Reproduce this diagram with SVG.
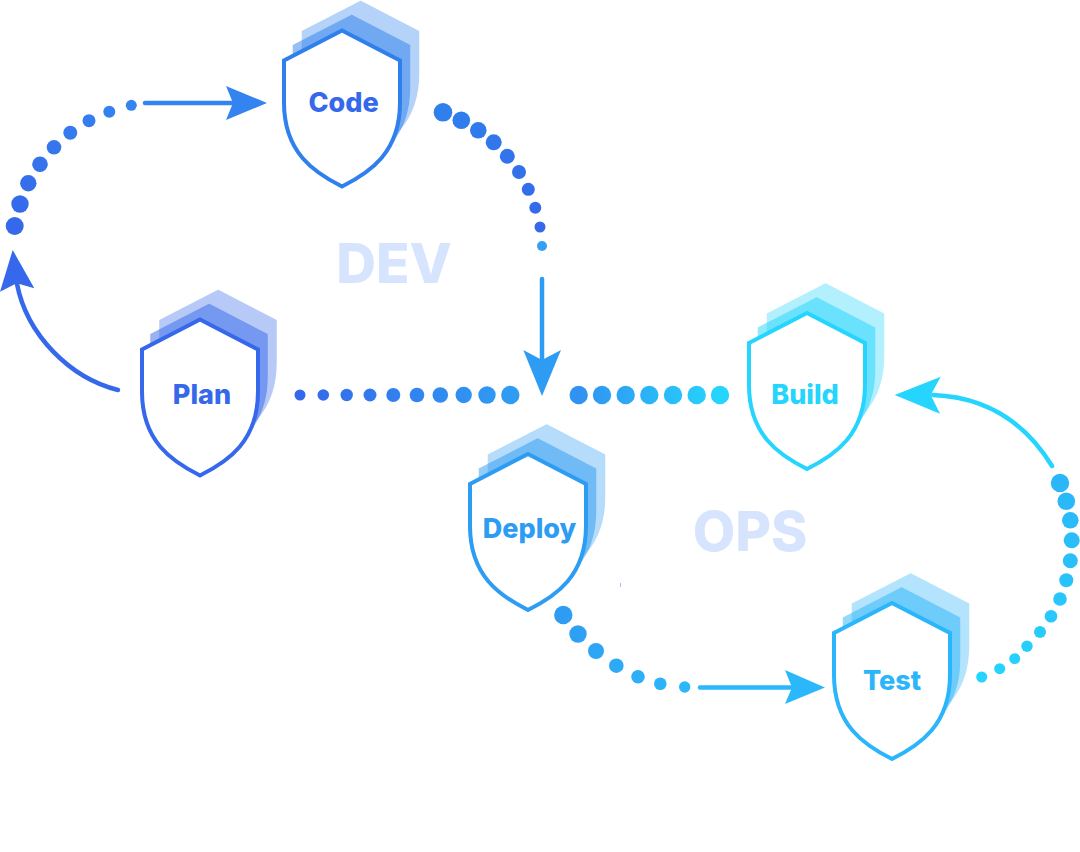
<svg xmlns="http://www.w3.org/2000/svg" width="1080" height="852" viewBox="0 0 1080 852">
<defs>
<path id="s" d="M0 0L58 30V72C58 122 28 142 0 156C-28 142 -58 122 -58 72V30Z"/>
<linearGradient id="g1" gradientUnits="userSpaceOnUse" x1="15" y1="226" x2="131" y2="105"><stop offset="0" stop-color="#3568ea"/><stop offset="1" stop-color="#3584f0"/></linearGradient>
<linearGradient id="g2" gradientUnits="userSpaceOnUse" x1="443" y1="112" x2="540" y2="227"><stop offset="0" stop-color="#2f80ed"/><stop offset="1" stop-color="#3568ea"/></linearGradient>
<linearGradient id="g3" gradientUnits="userSpaceOnUse" x1="300" y1="395" x2="511" y2="395"><stop offset="0" stop-color="#3568ea"/><stop offset="1" stop-color="#2f9cf3"/></linearGradient>
<linearGradient id="g4" gradientUnits="userSpaceOnUse" x1="579" y1="395" x2="720" y2="395"><stop offset="0" stop-color="#3192f1"/><stop offset="1" stop-color="#25d5fe"/></linearGradient>
<linearGradient id="g5" gradientUnits="userSpaceOnUse" x1="563" y1="615" x2="685" y2="687"><stop offset="0" stop-color="#2f9cf3"/><stop offset="1" stop-color="#2bb8fa"/></linearGradient>
<linearGradient id="g6" gradientUnits="userSpaceOnUse" x1="1060" y1="483" x2="982" y2="677"><stop offset="0" stop-color="#2bb6f8"/><stop offset="1" stop-color="#25d5fe"/></linearGradient>
</defs>
<style>
text{font-family:"Inter","Liberation Sans",sans-serif;text-anchor:middle;stroke-linejoin:round}
.l{font-size:27px;font-weight:800}
.big{font-size:55px;font-weight:800;fill:#d6e5fd}
.w{fill:#fff;stroke-width:4;stroke-linejoin:miter}
.b,.m{stroke-width:1.5;stroke-linejoin:miter}
.b{opacity:.35}.m{opacity:.5}
.c{fill:none;stroke-width:4.5;stroke-linecap:round}
</style>
<rect width="1080" height="852" fill="#fff"/>
<text class="big" x="394" y="282.5">DEV</text>
<text class="big" x="750" y="550.5">OPS</text>
<rect x="620" y="583" width="1" height="4" fill="#9fc4f7"/>
<g id="connectors">
<g fill="url(#g1)"><circle cx="14.7" cy="226" r="9"/><circle cx="20" cy="204" r="8.7"/><circle cx="28.3" cy="183.3" r="8.2"/><circle cx="40" cy="164.3" r="7.8"/><circle cx="54" cy="147.3" r="7.3"/><circle cx="70.3" cy="132.7" r="7"/><circle cx="89" cy="120.7" r="6.5"/><circle cx="109.3" cy="111.7" r="6"/><circle cx="131.3" cy="105.3" r="5.5"/></g>
<g fill="url(#g2)"><circle cx="443" cy="112.3" r="9.3"/><circle cx="461.3" cy="120.3" r="8.8"/><circle cx="478.3" cy="130.3" r="8.3"/><circle cx="493.7" cy="142.3" r="8"/><circle cx="507.3" cy="156.3" r="7.5"/><circle cx="519" cy="172" r="7"/><circle cx="528.3" cy="189.3" r="6.5"/><circle cx="535.3" cy="207.7" r="6"/><circle cx="540" cy="227" r="5.5"/></g>
<circle cx="542" cy="246" r="5" fill="#33a0f5"/>
<g fill="url(#g3)"><circle cx="300" cy="395" r="5.5"/><circle cx="323.3" cy="395" r="5.8"/><circle cx="346.7" cy="395" r="6.2"/><circle cx="370" cy="395" r="6.5"/><circle cx="393.3" cy="395" r="7"/><circle cx="417" cy="395" r="7.3"/><circle cx="440.3" cy="395" r="7.8"/><circle cx="463.7" cy="395" r="8.2"/><circle cx="487" cy="395" r="8.7"/><circle cx="510.3" cy="395" r="9.2"/></g>
<g fill="url(#g4)"><circle cx="578.7" cy="395" r="9.2"/><circle cx="602" cy="395" r="9.2"/><circle cx="625.7" cy="395" r="9.2"/><circle cx="649.3" cy="395" r="9.2"/><circle cx="673" cy="395" r="9.2"/><circle cx="696.7" cy="395" r="9.2"/><circle cx="720" cy="395" r="9.2"/></g>
<g fill="url(#g5)"><circle cx="563.3" cy="615" r="9.2"/><circle cx="578" cy="634" r="8.7"/><circle cx="596" cy="651" r="8"/><circle cx="616.3" cy="665.7" r="7.3"/><circle cx="638" cy="676.7" r="6.8"/><circle cx="660.3" cy="683.7" r="6.3"/><circle cx="684.7" cy="687" r="5.7"/></g>
<g fill="url(#g6)"><circle cx="1060" cy="483" r="9.2"/><circle cx="1066.3" cy="501.3" r="8.8"/><circle cx="1070.3" cy="520.3" r="8.3"/><circle cx="1071.7" cy="540.3" r="8"/><circle cx="1070.3" cy="560.7" r="7.5"/><circle cx="1066.3" cy="580.3" r="7"/><circle cx="1060" cy="599" r="6.8"/><circle cx="1051" cy="616.3" r="6.3"/><circle cx="1040" cy="632" r="6"/><circle cx="1027" cy="646.3" r="5.7"/><circle cx="1014.7" cy="658.7" r="5.5"/><circle cx="999.7" cy="668.7" r="5.5"/><circle cx="981.7" cy="677" r="5.5"/></g>
<path class="c" stroke="#3384f0" d="M145 103H236"/><path fill="#3384f0" d="M267 103L226 86L233 103L226 120Z"/>
<path class="c" stroke="#3568ea" d="M118 390C70 378 27 335 17 284"/><path fill="#3568ea" d="M12.7 250L0 291.7L16.7 283.3L34.3 288.3Z"/>
<path class="c" stroke="#2f9cf3" d="M542 279V362"/><path fill="#2f9cf3" d="M542 396L523.3 350L542 360L561 350Z"/>
<path class="c" stroke="#2bb8fa" d="M700 687.5H795"/><path fill="#2bb8fa" d="M825 687.5L785 670L792 687.5L785 704Z"/>
<path class="c" stroke="#25d5fe" d="M1052 466C1025 422 985 397 933 395"/><path fill="#25d5fe" d="M894.7 395L940.7 376.7L930.7 395L940 413.7Z"/>
</g>
<g id="node-plan" transform="translate(200 319.5)"><g fill="#3568ea" stroke="#3568ea"><use href="#s" class="b" x="18" y="-29"/><use href="#s" class="m" x="9" y="-15"/></g><use href="#s" class="w" stroke="#3568ea"/><text class="l" fill="#3568ea" x="2" y="84.5">Plan</text></g>
<g id="node-code" transform="translate(342 30.5)"><g fill="#2f80ed" stroke="#2f80ed"><use href="#s" class="b" x="18.5" y="-29"/><use href="#s" class="m" x="9.5" y="-15"/></g><use href="#s" class="w" stroke="#2f80ed"/><text class="l" fill="#3568ea" x="1.5" y="81">Code</text></g>
<g id="node-deploy" transform="translate(528 454)"><g fill="#2d9cf3" stroke="#2d9cf3"><use href="#s" class="b" x="18.5" y="-29"/><use href="#s" class="m" x="9.5" y="-15"/></g><use href="#s" class="w" stroke="#2d9cf3"/><text class="l" fill="#2d9cf3" x="1.5" y="84">Deploy</text></g>
<g id="node-build" transform="translate(807 313)"><g fill="#25d5fe" stroke="#25d5fe"><use href="#s" class="b" x="18.5" y="-29"/><use href="#s" class="m" x="9.5" y="-15"/></g><use href="#s" class="w" stroke="#25d5fe"/><text class="l" fill="#25d5fe" x="-2" y="90.5">Build</text></g>
<g id="node-test" transform="translate(892 603)"><g fill="#2bb5fa" stroke="#2bb5fa"><use href="#s" class="b" x="18.5" y="-29"/><use href="#s" class="m" x="9.5" y="-15"/></g><use href="#s" class="w" stroke="#2bb5fa"/><text class="l" fill="#2bb5fa" x="0" y="86.5">Test</text></g>
</svg>
